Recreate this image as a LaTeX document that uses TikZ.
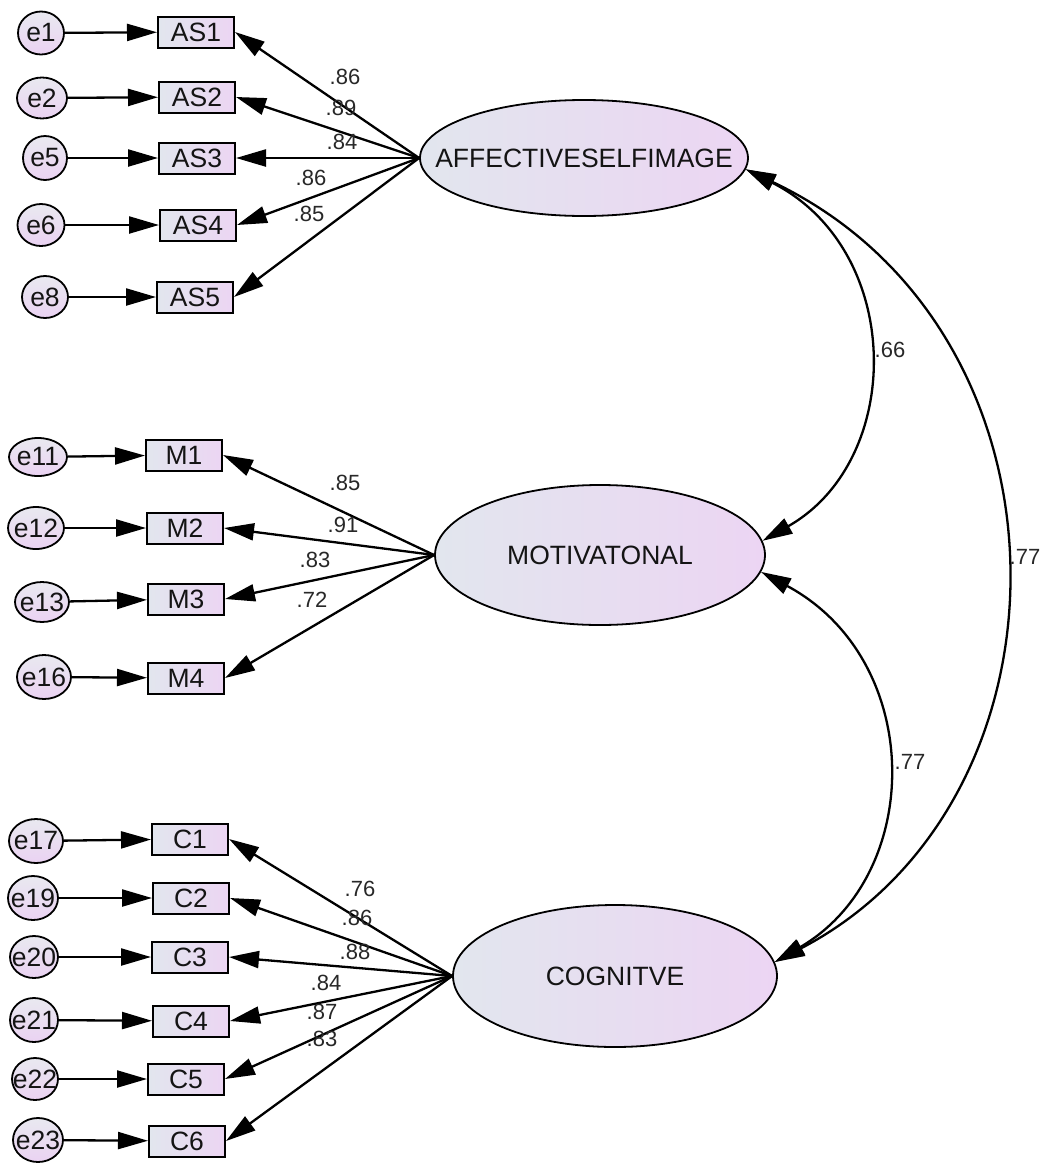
\documentclass[tikz,border=0pt]{standalone}
\usepackage{fontspec}
\setmainfont{Liberation Sans}
\usetikzlibrary{shapes.geometric,arrows.meta}

\definecolor{shadeL}{RGB}{226,230,238}
\definecolor{shadeR}{RGB}{236,213,243}
\definecolor{errTop}{RGB}{233,233,240}
\definecolor{errBot}{RGB}{234,210,242}
\definecolor{ink}{RGB}{20,20,20}
\definecolor{coefink}{RGB}{40,40,40}

\tikzset{
  >={Triangle[length=30pt,width=17pt]},
  nodetxt/.style={font=\fontsize{26.5}{31}\selectfont, text=ink},
  obs/.style={draw, line width=2pt, rectangle, minimum width=76pt,
    minimum height=31pt, inner sep=0pt, left color=shadeL,
    right color=shadeR, nodetxt},
  err/.style n args={3}{draw, line width=1.8pt, ellipse,
    minimum width=#1pt, minimum height=#2pt, inner sep=0pt,
    top color=errTop, bottom color=errBot, label={[nodetxt]center:#3}},
  latent/.style n args={3}{draw, line width=1.8pt, ellipse,
    minimum width=#1pt, minimum height=#2pt, inner sep=0pt,
    left color=shadeL, right color=shadeR, label={[nodetxt]center:#3}},
  coef/.style={font=\fontsize{22}{26}\selectfont, text=coefink, inner sep=0pt},
  regr/.style={line width=2.3pt, ->},
  cov/.style={line width=2.3pt, <->},
}

\begin{document}
\begin{tikzpicture}[x=1pt, y=-1pt]
\fill[white] (0,0) rectangle (1059,1165);
\useasboundingbox (0,0) rectangle (1059,1165);

% latent factors
\node[latent={328}{116}{AFFECTIVESELFIMAGE}] (L1) at (584,158) {};
\node[latent={330}{140}{MOTIVATONAL}] (L2) at (600,555) {};
\node[latent={324}{142}{COGNITVE}] (L3) at (615,976) {};

% affective self image block
\node[err={46}{43}{e1}] (e1) at (41,33) {};
\node[err={50}{41}{e2}] (e2) at (42,98) {};
\node[err={44}{44}{e5}] (e5) at (45,158) {};
\node[err={47}{42}{e6}] (e6) at (41,225) {};
\node[err={46}{42}{e8}] (e8) at (45,297) {};
\node[obs] (AS1) at (196,32) {AS1};
\node[obs] (AS2) at (197,97) {AS2};
\node[obs] (AS3) at (197,158) {AS3};
\node[obs] (AS4) at (198,225) {AS4};
\node[obs] (AS5) at (195,297) {AS5};

% motivational block
\node[err={58}{38}{e11}] (e11) at (38,457) {};
\node[err={56}{42}{e12}] (e12) at (36,528) {};
\node[err={54}{40}{e13}] (e13) at (42,602) {};
\node[err={54}{44}{e16}] (e16) at (44,677) {};
\node[obs] (M1) at (184,455) {M1};
\node[obs] (M2) at (185,528) {M2};
\node[obs] (M3) at (186,599) {M3};
\node[obs] (M4) at (186,678) {M4};

% cognitive block
\node[err={54}{44}{e17}] (e17) at (36,841) {};
\node[err={50}{44}{e19}] (e19) at (33,898) {};
\node[err={48}{42}{e20}] (e20) at (34,957) {};
\node[err={48}{44}{e21}] (e21) at (34,1020) {};
\node[err={46}{42}{e22}] (e22) at (35,1079) {};
\node[err={50}{44}{e23}] (e23) at (38,1140) {};
\node[obs] (C1) at (190,839) {C1};
\node[obs] (C2) at (191,898) {C2};
\node[obs] (C3) at (190,957) {C3};
\node[obs] (C4) at (191,1021) {C4};
\node[obs] (C5) at (186,1079) {C5};
\node[obs] (C6) at (187,1141) {C6};

% error terms
\foreach \e/\v in {e1/AS1,e2/AS2,e5/AS3,e6/AS4,e8/AS5,
                   e11/M1,e12/M2,e13/M3,e16/M4,
                   e17/C1,e19/C2,e20/C3,e21/C4,e22/C5,e23/C6}
  \draw[regr] (\e) -- (\v);

% factor loadings
\foreach \v in {AS1,AS2,AS3,AS4,AS5}
  \draw[regr] (L1.west) -- (\v.east);
\foreach \v in {M1,M2,M3,M4}
  \draw[regr] (L2.west) -- (\v.east);
\foreach \v in {C1,C2,C3,C4,C5,C6}
  \draw[regr] (L3.west) -- (\v.east);

% covariances
\draw[cov] (L1.-4) .. controls (905,250) and (905,460) .. (L2.5);
\draw[cov] (L1.-4) .. controls (1085,330) and (1085,800) .. (L3.5);
\draw[cov] (L2.-6) .. controls (925,660) and (925,874) .. (L3.5);

% coefficients
\node[coef] (a1) at (345,77) {.86};
\node[coef] (a2) at (341,108) {.89};
\node[coef] (a3) at (342,142) {.84};
\node[coef] (a4) at (311,178) {.86};
\node[coef] (a5) at (309,214) {.85};
\node[coef] (m1) at (345,483) {.85};
\node[coef] (m2) at (343,525) {.91};
\node[coef] (m3) at (315,560) {.83};
\node[coef] (m4) at (312,600) {.72};
\node[coef] (c1) at (360,889) {.76};
\node[coef] (c2) at (357,918) {.86};
\node[coef] (c3) at (355,952) {.88};
\node[coef] (c4) at (326,983) {.84};
\node[coef] (c5) at (322,1012) {.87};
\node[coef] (c6) at (322,1039) {.83};
\node[coef] (r12) at (890,350) {.66};
\node[coef] (r23) at (910,762) {.77};
\node[coef] (r13) at (1025,557) {.77};
\end{tikzpicture}
\end{document}
